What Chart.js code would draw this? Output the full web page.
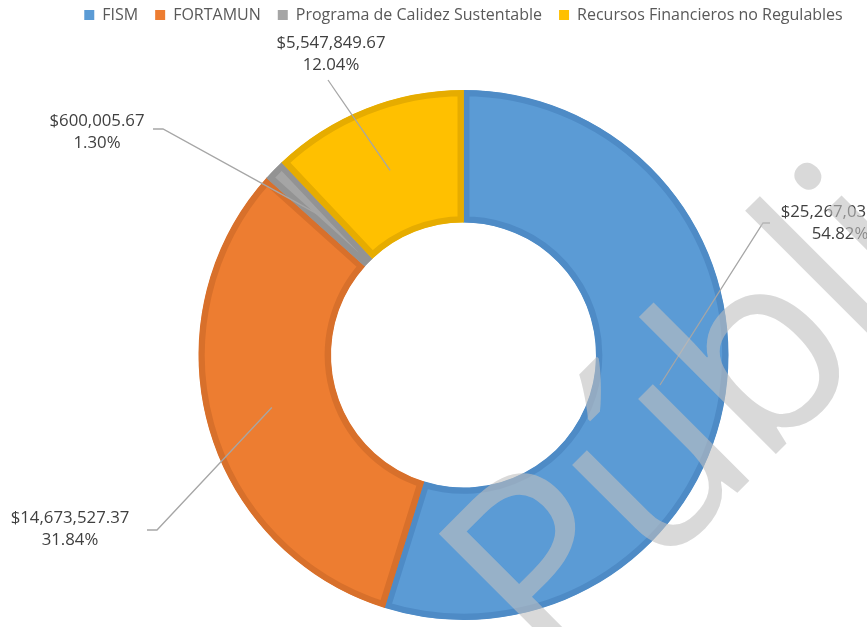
<!DOCTYPE html>
<html><head><meta charset="utf-8">
<script src="https://cdn.jsdelivr.net/npm/chart.js@4/dist/chart.umd.min.js"></script>
<style>html,body{margin:0;padding:0;background:#fff;overflow:hidden}#wrap{width:867px;height:627px;position:relative}</style>
</head><body><div id="wrap"><canvas id="c"></canvas></div>
<script>
const categories = ['FISM', 'FORTAMUN', 'Programa de Calidez Sustentable', 'Recursos Financieros no Regulables'];
const values = [25267036.34, 14673527.37, 600005.67, 5547849.67];
const valueLabels = ['$25,267,036.34', '$14,673,527.37', '$600,005.67', '$5,547,849.67'];
const percentLabels = ['54.82%', '31.84%', '1.30%', '12.04%'];
const fillColors = ['#5B9BD5', '#ED7D31', '#A5A5A5', '#FFC000'];
const borderColors = ['#4E8BC6', '#D8702B', '#939393', '#E6AC00'];
const watermarkText = 'Públi';

// annotation layout (label text centre, elbow of leader line)
const labelLayout = [
  {tx: 840, ty: 212, ex: [770, 763], ey: 223},
  {tx: 70,  ty: 518, ex: [147, 157], ey: 530},
  {tx: 97,  ty: 121, ex: [153, 163], ey: 129},
  {tx: 331, ty: 43,  ex: [328], ey: 80}
];

const legendSpace = {
  id: 'legendSpace',
  afterInit(chart) {
    const lg = chart.legend;
    if (!lg) return;
    const fit = lg.fit;
    lg.fit = function () { fit.call(this); this.height += 50; };
  }
};

const labelsPlugin = {
  id: 'outLabels',
  afterDraw(chart) {
    const ctx = chart.ctx;
    const meta = chart.getDatasetMeta(0);
    ctx.save();
    meta.data.forEach((arc, i) => {
      const p = arc.getProps(['x', 'y', 'startAngle', 'endAngle', 'innerRadius', 'outerRadius'], true);
      const mid = (p.startAngle + p.endAngle) / 2;
      const r = (p.innerRadius + p.outerRadius) / 2;
      const sx = p.x + Math.cos(mid) * r;
      const sy = p.y + Math.sin(mid) * r;
      const L = labelLayout[i];
      ctx.strokeStyle = '#A6A6A6';
      ctx.lineWidth = 1.3;
      ctx.beginPath();
      ctx.moveTo(L.ex[0], L.ey);
      for (let k = 1; k < L.ex.length; k++) ctx.lineTo(L.ex[k], L.ey);
      ctx.lineTo(sx, sy);
      ctx.stroke();
      ctx.fillStyle = '#404040';
      ctx.font = '16.8px "Open Sans"';
      ctx.textAlign = 'center';
      ctx.textBaseline = 'middle';
      ctx.fillText(valueLabels[i], L.tx, L.ty);
      ctx.fillText(percentLabels[i], L.tx, L.ty + 22);
    });
    ctx.restore();
    // watermark
    ctx.save();
    ctx.translate(550, 680);
    ctx.rotate(-45 * Math.PI / 180);
    ctx.font = '255px "Open Sans"';
    try { ctx.letterSpacing = '-6px'; } catch (e) {}
    ctx.fillStyle = 'rgba(192,192,192,0.6)';
    ctx.textAlign = 'left';
    ctx.textBaseline = 'alphabetic';
    ctx.fillText(watermarkText, 0, 0);
    ctx.restore();
  }
};

new Chart(document.getElementById('c'), {
  type: 'doughnut',
  data: {
    labels: categories,
    datasets: [{
      data: values,
      backgroundColor: fillColors,
      borderColor: borderColors,
      borderWidth: 6,
      borderAlign: 'inner',
      hoverOffset: 0
    }]
  },
  options: {
    responsive: true,
    maintainAspectRatio: false,
    animation: false,
    cutout: '50%',
    radius: 265,
    layout: {padding: {top: -10, left: 60, right: 0, bottom: 0}},
    plugins: {
      legend: {
        position: 'top',
        labels: {
          boxWidth: 10, boxHeight: 10, padding: 17,
          color: '#595959',
          font: {family: 'Open Sans', size: 16},
          generateLabels(chart) {
            const items = Chart.overrides.doughnut.plugins.legend.labels.generateLabels(chart);
            items.forEach(it => { it.lineWidth = 0; it.strokeStyle = it.fillStyle; });
            return items;
          }
        }
      },
      tooltip: {enabled: false}
    }
  },
  plugins: [legendSpace, labelsPlugin]
});
</script></body></html>
